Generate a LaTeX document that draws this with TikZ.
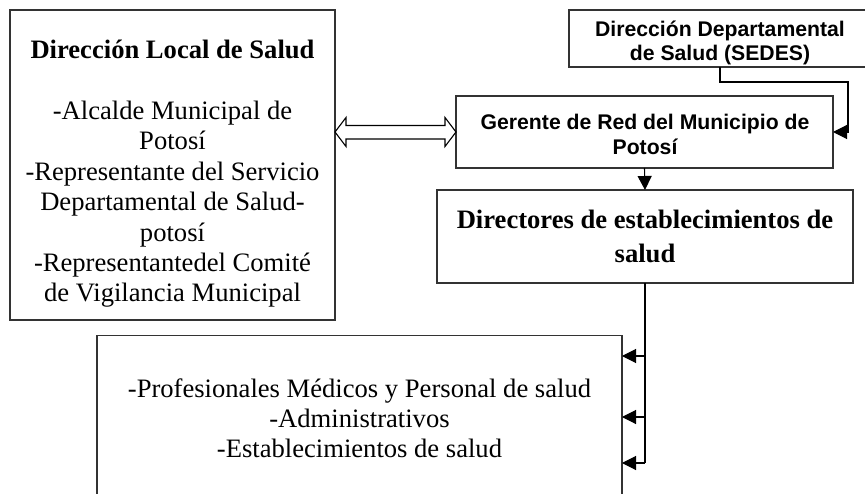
\documentclass[tikz,border=0pt]{standalone}
\usepackage{fontspec}
\setmainfont{Liberation Serif}
\newfontfamily\arialfont{Liberation Sans}
\usetikzlibrary{arrows.meta,calc}
\begin{document}
\begin{tikzpicture}[x=1pt,y=-1pt,
  box/.style={draw=black!80, line width=1.1pt, inner sep=0pt, outer sep=0pt, align=center},
  times/.style={font=\fontsize{26.6}{30.4}\selectfont},
  timesb/.style={font=\fontsize{26.6}{34}\selectfont\bfseries},
  arialb/.style={font=\fontsize{21.2}{24.5}\selectfont\arialfont\bfseries},
  arr/.style={line width=1.1pt, -{Triangle[length=14pt,width=14pt]}},
  conn/.style={line width=1.1pt}]
\useasboundingbox (0,0) rectangle (865,494);
\clip (0,0) rectangle (865,494);
\fill[white] (0,0) rectangle (865,494);
% boxes
\node[box, minimum width=325pt, minimum height=310pt] (L) at (172.5,165) {};
\node[times, align=center] (Ltext) at (172.5,174) {\textbf{Dirección Local de Salud}\\[30.4pt]
  -Alcalde Municipal de\\ Potosí\\ -Representante del Servicio\\ Departamental de Salud-\\ potosí\\ -Representantedel Comité\\ de Vigilancia Municipal};
\node[box, minimum width=302pt, minimum height=57pt] (S) at (720,38.5) {};
\node[arialb, align=center] (Stext) at (720,43) {Dirección Departamental\\ de Salud (SEDES)};
\node[box, minimum width=377pt, minimum height=72pt] (G) at (644.5,132) {};
\node[arialb, align=center] (Gtext) at (645,134.5) {Gerente de Red del Municipio de\\ Potosí};
\node[box, timesb, minimum width=416pt, minimum height=93pt] (D) at (645,236.5) {Directores de establecimientos de\\ salud};
\node[box, times, minimum width=525pt, minimum height=165pt, font=\fontsize{26.6}{30}\selectfont] (B) at (359.5,418) {-Profesionales Médicos y Personal de salud\\ -Administrativos\\ -Establecimientos de salud};
% SEDES -> Gerente
\draw[arr] (S.south) -- ++(0,15) -| ($(G.east)+(15,0)$) -- (G.east);
% Gerente -> Directores
\draw[arr] (G.south) -- (D.north);
% Directores -> bottom box
\coordinate (j1) at (D.south |- 0,356);
\coordinate (j2) at (D.south |- 0,417);
\coordinate (j3) at (D.south |- 0,463);
\draw[conn] (D.south) -- (j3);
\draw[arr] (j1) -- (B.east |- j1);
\draw[arr] (j2) -- (B.east |- j2);
\draw[arr] (j3) -- (B.east |- j3);
% double open arrow between Local and Gerente
\coordinate (da1) at (L.east |- G.west);
\coordinate (da2) at (G.west);
\draw[line width=1.1pt, line join=miter] (da1) -- ($(da1)+(11,-14.5)$) -- ($(da1)+(11,-6.5)$) -- ($(da2)+(-11,-6.5)$) -- ($(da2)+(-11,-14.5)$) -- (da2)
  -- ($(da2)+(-11,14.5)$) -- ($(da2)+(-11,7)$) -- ($(da1)+(11,7)$) -- ($(da1)+(11,14.5)$) -- cycle;
\end{tikzpicture}
\end{document}
